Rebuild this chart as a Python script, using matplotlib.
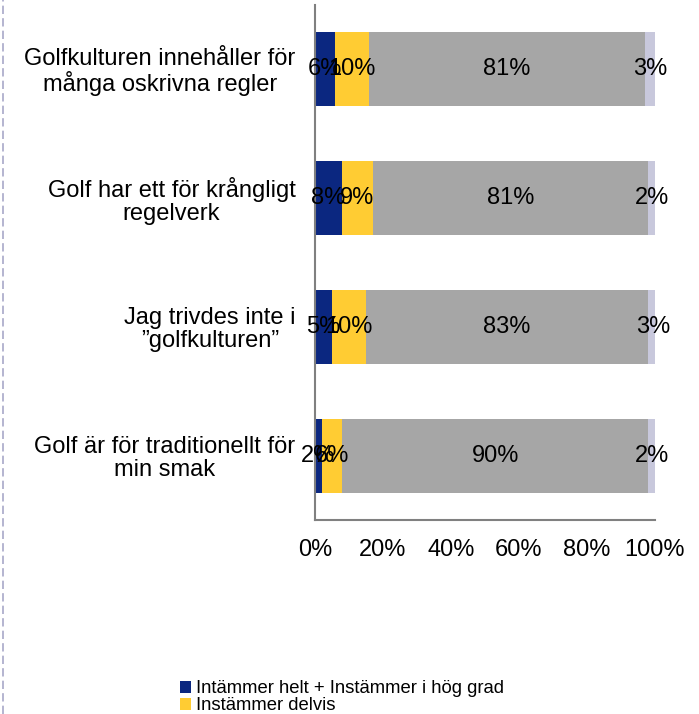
import matplotlib
matplotlib.use("Agg")
import matplotlib.pyplot as plt
from matplotlib.lines import Line2D
from matplotlib.patches import Patch
import numpy as np

plt.rcParams['font.family'] = ['Liberation Sans', 'DejaVu Sans']

# --- Données ---
categories = [
    "Golfkulturen innehåller för\nmånga oskrivna regler",
    "Golf har ett för krångligt\nregelverk",
    "Jag trivdes inte i\n\u201dgolfkulturen\u201d",
    "Golf är för traditionellt för\nmin smak",
]
helt = [6, 8, 5, 2]
delvis = [10, 9, 10, 6]
inte = [81, 81, 83, 90]
vet_ej = [3, 2, 3, 2]
serie_noms = ["Intämmer helt + Instämmer i hög grad", "Instämmer delvis"]
ticks_x = [0, 20, 40, 60, 80, 100]

couleurs = ["#0B2780", "#FFCC33", "#A6A6A6", "#C8C8DC"]
taille = 17

fig = plt.figure(figsize=(6.99, 7.14), dpi=100)
ax = fig.add_axes([0.4506, 0.2717, 0.4864, 0.7213])

y = np.arange(len(categories))
gauche = np.zeros(len(categories))
for vals, c in zip([helt, delvis, inte, vet_ej], couleurs):
    vals = np.array(vals, dtype=float)
    ax.barh(y, vals, left=gauche, height=0.575, color=c, edgecolor="none")
    for yi, g, v in zip(y, gauche, vals):
        ax.text(g + v / 2, yi, f"{int(v)}%", ha="center", va="center",
                fontsize=taille, color="black")
    gauche = gauche + vals

ax.set_ylim(len(categories) - 0.5, -0.5)
ax.set_xlim(0, 100)
ax.set_yticks(y)
ax.set_yticklabels(categories, fontsize=taille, linespacing=1.05,
                   multialignment="center")
ax.set_xticks(ticks_x)
ax.set_xticklabels([f"{t}%" for t in ticks_x], fontsize=taille)
ax.tick_params(axis="y", length=0, pad=14)
ax.tick_params(axis="x", length=0, pad=14)
for s in ["top", "right"]:
    ax.spines[s].set_visible(False)
for s in ["left", "bottom"]:
    ax.spines[s].set_color("#808080")
    ax.spines[s].set_linewidth(1.5)

# ligne pointillée à gauche
fig.add_artist(Line2D([0.004, 0.004], [0, 1], transform=fig.transFigure,
                      color="#A8A8C8", linestyle=(0, (5, 2.5)), linewidth=1.2))

# --- Légende ---
handles = [Patch(facecolor=couleurs[i], edgecolor="none") for i in range(2)]
fig.legend(handles, serie_noms, loc="upper left",
           bbox_to_anchor=(0.257, 0.047), frameon=False, fontsize=13.3,
           handlelength=0.6, handleheight=0.6, handletextpad=0.3,
           labelspacing=0.0, borderpad=0, borderaxespad=0)

fig.savefig("out.png", dpi=100)
